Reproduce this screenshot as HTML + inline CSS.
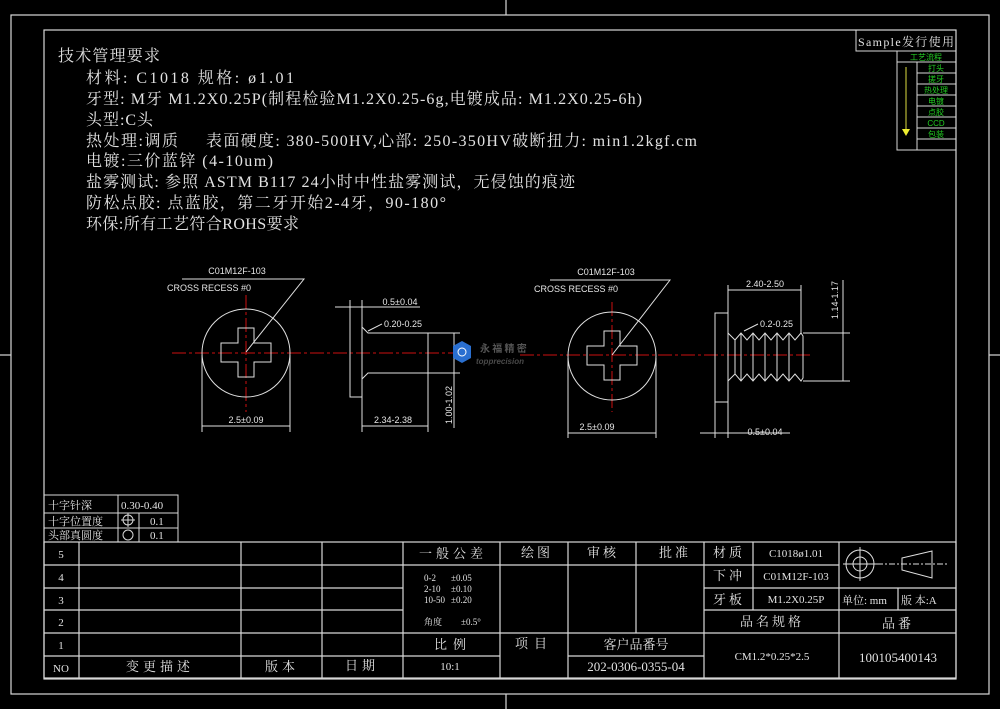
<!DOCTYPE html>
<html><head><meta charset="utf-8"><style>
html,body{margin:0;padding:0;background:#000;}
svg{display:block;}
.t{font-family:"Liberation Serif","Noto Serif CJK SC",serif;fill:#e2e2e2;}
.s{font-family:"Liberation Sans","Noto Sans CJK SC",sans-serif;fill:#e6e6e6;}
.g{font-family:"Liberation Sans","Noto Sans CJK SC",sans-serif;fill:#22cc22;font-size:8px;}
</style></head><body>
<svg width="1000" height="709" viewBox="0 0 1000 709" xmlns="http://www.w3.org/2000/svg">
<rect width="1000" height="709" fill="#000"/>
<g stroke="#d8d8d8" fill="none" stroke-width="1.2">
<rect x="11" y="15" width="978" height="679"/>
<rect x="44" y="30" width="912" height="649"/>
<line x1="506" y1="0" x2="506" y2="15"/><line x1="506" y1="694" x2="506" y2="709"/>
<line x1="0" y1="355" x2="11" y2="355"/><line x1="989" y1="355" x2="1000" y2="355"/>
</g>
<!-- tech text -->
<g class="t" font-size="16">
<text x="58" y="61" textLength="102">技术管理要求</text>
<text x="86" y="83" textLength="208">材料: C1018  规格: ø1.01</text>
<text x="86" y="104" textLength="556">牙型: M牙 M1.2X0.25P(制程检验M1.2X0.25-6g,电镀成品: M1.2X0.25-6h)</text>
<text x="86" y="125" textLength="67">头型:C头</text>
<text x="86" y="146" textLength="92">热处理:调质</text>
<text x="206" y="146" textLength="491">表面硬度: 380-500HV,心部: 250-350HV破断扭力: min1.2kgf.cm</text>
<text x="86" y="166" textLength="187">电镀:三价蓝锌 (4-10um)</text>
<text x="86" y="187" textLength="489">盐雾测试: 参照 ASTM B117 24小时中性盐雾测试，无侵蚀的痕迹</text>
<text x="86" y="208" textLength="360">防松点胶: 点蓝胶，第二牙开始2-4牙，90-180°</text>
<text x="86" y="229" textLength="213">环保:所有工艺符合ROHS要求</text>
</g>
<!-- sample box -->
<g stroke="#d8d8d8" fill="none" stroke-width="1">
<rect x="856" y="30" width="100" height="21"/>
<rect x="897" y="51" width="59" height="99"/>
<line x1="897" y1="62" x2="956" y2="62"/>
<line x1="917" y1="62" x2="917" y2="150"/>
<line x1="917" y1="73" x2="956" y2="73"/><line x1="917" y1="84" x2="956" y2="84"/>
<line x1="917" y1="95" x2="956" y2="95"/><line x1="917" y1="106" x2="956" y2="106"/>
<line x1="917" y1="117" x2="956" y2="117"/><line x1="917" y1="128" x2="956" y2="128"/>
<line x1="917" y1="139" x2="956" y2="139"/>
</g>
<text class="t" x="858" y="46" font-size="12" textLength="96">Sample发行使用</text>
<text class="g" x="926" y="60" text-anchor="middle">工艺流程</text>
<g class="g" text-anchor="middle">
<text x="936" y="71">打头</text><text x="936" y="82">搓牙</text><text x="936" y="93">热处理</text>
<text x="936" y="104">电镀</text><text x="936" y="115">点胶</text><text x="936" y="126">CCD</text><text x="936" y="137">包装</text>
</g>
<line x1="906" y1="67" x2="906" y2="130" stroke="#dddd40" stroke-width="1"/>
<polygon points="902,129 910,129 906,136" fill="#eeee30"/>
<!-- red centerline -->
<g stroke="#cc1111" stroke-width="1" stroke-dasharray="14,3,3,3" fill="none">
<line x1="172" y1="353" x2="470" y2="353"/>
<line x1="520" y1="355" x2="812" y2="355"/>
<line x1="246" y1="295" x2="246" y2="412"/>
<line x1="612" y1="302" x2="612" y2="412"/>
</g>
<g stroke="#e0e0e0" stroke-width="1" fill="none">
<circle cx="246" cy="353" r="44"/>
<path d="M238,328 H254 V343 H271 V362 H254 V377 H238 V362 H221 V343 H238 Z"/>
<polyline points="246,352 304,279 182,279"/>
<line x1="202" y1="355" x2="202" y2="432"/><line x1="290" y1="355" x2="290" y2="432"/>
<line x1="202" y1="426" x2="290" y2="426"/>
<rect x="350" y="307" width="12" height="90"/>
<polyline points="362,327 368,333 428,333 428,373 368,373 362,379"/>
<line x1="350" y1="300" x2="350" y2="307"/><line x1="362" y1="300" x2="362" y2="307"/>
<line x1="335" y1="307" x2="420" y2="307"/>
<line x1="368" y1="331" x2="382" y2="324"/>
<line x1="428" y1="333" x2="460" y2="333"/><line x1="428" y1="373" x2="460" y2="373"/>
<line x1="454" y1="333" x2="454" y2="428"/>
<line x1="362" y1="397" x2="362" y2="432"/><line x1="428" y1="373" x2="428" y2="432"/>
<line x1="362" y1="426" x2="428" y2="426"/>
<circle cx="612" cy="356" r="44"/>
<path d="M604,331 H620 V346 H637 V365 H620 V380 H604 V365 H587 V346 H604 Z"/>
<polyline points="612,355 670,280 550,280"/>
<line x1="568" y1="358" x2="568" y2="438"/><line x1="656" y1="358" x2="656" y2="438"/>
<line x1="568" y1="433" x2="656" y2="433"/>
<rect x="715" y="313" width="13" height="89"/>
<polyline points="728,333 735,340"/><polyline points="728,381 735,374"/>
<path d="M735,340 L741,333 L747,340 L753,333 L759,340 L765,333 L771,340 L777,333 L783,340 L789,333 L795,340 L801,333 L803,336 V378 L801,381 L795,374 L789,381 L783,374 L777,381 L771,374 L765,381 L759,374 L753,381 L747,374 L741,381 L735,374 Z"/>
<line x1="741" y1="333" x2="741" y2="381"/><line x1="753" y1="333" x2="753" y2="381"/>
<line x1="765" y1="333" x2="765" y2="381"/><line x1="777" y1="333" x2="777" y2="381"/>
<line x1="789" y1="333" x2="789" y2="381"/>
<line x1="728" y1="313" x2="728" y2="285"/><line x1="801" y1="333" x2="801" y2="285"/>
<line x1="728" y1="290" x2="801" y2="290"/>
<line x1="744" y1="331" x2="758" y2="324"/>
<line x1="803" y1="333" x2="850" y2="333"/><line x1="803" y1="381" x2="850" y2="381"/>
<line x1="843" y1="280" x2="843" y2="381"/>
<line x1="715" y1="402" x2="715" y2="438"/><line x1="728" y1="402" x2="728" y2="438"/>
<line x1="700" y1="433" x2="790" y2="433"/>
</g>
<g class="s" font-size="9">
<text x="237" y="274" text-anchor="middle">C01M12F-103</text>
<text x="167" y="291">CROSS RECESS #0</text>
<text x="246" y="423" text-anchor="middle">2.5±0.09</text>
<text x="400" y="305" text-anchor="middle">0.5±0.04</text>
<text x="384" y="327">0.20-0.25</text>
<text x="393" y="423" text-anchor="middle">2.34-2.38</text>
<text transform="translate(452,405) rotate(-90)" text-anchor="middle">1.00-1.02</text>
<text x="606" y="275" text-anchor="middle">C01M12F-103</text>
<text x="534" y="292">CROSS RECESS #0</text>
<text x="597" y="430" text-anchor="middle">2.5±0.09</text>
<text x="765" y="287" text-anchor="middle">2.40-2.50</text>
<text x="760" y="327">0.2-0.25</text>
<text x="765" y="435" text-anchor="middle">0.5±0.04</text>
<text transform="translate(838,300) rotate(-90)" text-anchor="middle">1.14-1.17</text>
</g>
<polygon points="462,341 471,346 471,358 462,363 453,358 453,346" fill="#2a6fd0"/>
<circle cx="462" cy="352" r="4" fill="none" stroke="#fff" stroke-width="1"/>
<text x="480" y="352" font-size="10" font-weight="bold" fill="#555" font-family="Noto Sans CJK SC,sans-serif">永 福 精 密</text>
<text x="476" y="364" font-size="8" font-style="italic" font-weight="bold" fill="#4a4a4a" font-family="Liberation Sans,sans-serif">topprecision</text>
<!-- small table -->
<g stroke="#d8d8d8" fill="none" stroke-width="1">
<rect x="44" y="495" width="134" height="47"/>
<line x1="44" y1="513" x2="178" y2="513"/><line x1="44" y1="528" x2="178" y2="528"/>
<line x1="118" y1="495" x2="118" y2="542"/><line x1="139" y1="513" x2="139" y2="542"/>
<circle cx="128" cy="520" r="5"/><line x1="121" y1="520" x2="135" y2="520"/><line x1="128" y1="513" x2="128" y2="527"/>
<circle cx="128" cy="535" r="5"/>
</g>
<g class="t" font-size="11">
<text x="48" y="509">十字针深</text><text x="121" y="509">0.30-0.40</text>
<text x="48" y="525">十字位置度</text><text x="150" y="525">0.1</text>
<text x="48" y="539">头部真圆度</text><text x="150" y="539">0.1</text>
</g>
<!-- title block -->
<g stroke="#d8d8d8" fill="none" stroke-width="1.2">
<rect x="44" y="542" width="912" height="136"/>
<line x1="44" y1="565" x2="839" y2="565"/>
<line x1="44" y1="588" x2="403" y2="588"/><line x1="704" y1="588" x2="956" y2="588"/>
<line x1="44" y1="610" x2="403" y2="610"/><line x1="704" y1="610" x2="956" y2="610"/>
<line x1="44" y1="633" x2="956" y2="633"/>
<line x1="44" y1="656" x2="500" y2="656"/><line x1="568" y1="656" x2="704" y2="656"/>
<line x1="79" y1="542" x2="79" y2="678"/><line x1="241" y1="542" x2="241" y2="678"/>
<line x1="322" y1="542" x2="322" y2="678"/><line x1="403" y1="542" x2="403" y2="678"/>
<line x1="500" y1="542" x2="500" y2="678"/><line x1="568" y1="542" x2="568" y2="678"/>
<line x1="636" y1="542" x2="636" y2="633"/><line x1="704" y1="542" x2="704" y2="678"/>
<line x1="753" y1="542" x2="753" y2="610"/><line x1="839" y1="542" x2="839" y2="678"/>
<line x1="898" y1="588" x2="898" y2="610"/>
</g>
<g stroke="#e0e0e0" fill="none" stroke-width="1">
<circle cx="860" cy="564" r="14"/><circle cx="860" cy="564" r="7"/>
<line x1="843" y1="564" x2="877" y2="564"/><line x1="860" y1="547" x2="860" y2="581"/>
<line x1="877" y1="564" x2="948" y2="564" stroke-dasharray="6,2,2,2"/>
<polygon points="902,558 932,551 932,578 902,570"/>
</g>
<g class="t" font-size="11" text-anchor="middle">
<text x="61" y="558">5</text><text x="61" y="581">4</text><text x="61" y="604">3</text>
<text x="61" y="626">2</text><text x="61" y="649">1</text><text x="61" y="672">NO</text>
<text x="160" y="671" font-size="13" letter-spacing="4">变更描述</text>
<text x="282" y="671" font-size="13" letter-spacing="4">版本</text>
<text x="362" y="670" font-size="13" letter-spacing="4">日期</text>
<text x="453" y="558" font-size="13" letter-spacing="4">一般公差</text>
<text x="453" y="649" font-size="13" letter-spacing="6">比例</text>
<text x="450" y="670">10:1</text>
<text x="537" y="557" font-size="13" letter-spacing="3">绘图</text>
<text x="603" y="557" font-size="13" letter-spacing="3">审核</text>
<text x="675" y="557" font-size="13" letter-spacing="3">批准</text>
<text x="729" y="557" font-size="13" letter-spacing="3">材质</text>
<text x="796" y="557">C1018ø1.01</text>
<text x="729" y="580" font-size="13" letter-spacing="3">下冲</text>
<text x="796" y="580">C01M12F-103</text>
<text x="729" y="604" font-size="13" letter-spacing="3">牙板</text>
<text x="796" y="603">M1.2X0.25P</text>
<text x="772" y="626" font-size="13" letter-spacing="3">品名规格</text>
<text x="898" y="628" font-size="13" letter-spacing="3">品番</text>
<text x="534" y="648" font-size="13" letter-spacing="6">项目</text>
<text x="636" y="649" font-size="13">客户品番号</text>
<text x="636" y="671" font-size="13">202-0306-0355-04</text>
<text x="772" y="660">CM1.2*0.25*2.5</text>
<text x="898" y="662" font-size="13">100105400143</text>
</g>
<g class="t" font-size="11">
<text x="842" y="604">单位: mm</text><text x="901" y="604">版 本:A</text>
</g>
<g class="t" font-size="9">
<text x="424" y="581">0-2</text><text x="451" y="581">±0.05</text>
<text x="424" y="592">2-10</text><text x="451" y="592">±0.10</text>
<text x="424" y="603">10-50</text><text x="451" y="603">±0.20</text>
<text x="424" y="625">角度</text><text x="461" y="625">±0.5°</text>
</g>
</svg>
</body></html>
